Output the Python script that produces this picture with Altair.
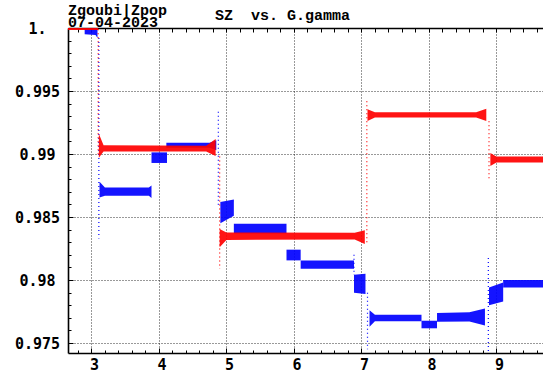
import altair as alt
import pandas as pd

# ---------------- data ----------------
# Each band segment: list of (G.gamma, SZ_low, SZ_high)
blue_segments = [
    [(2.90, 0.99950, 0.99995), (3.06, 0.99945, 0.99995), (3.09, 0.99920, 0.99995)],
    [(3.12, 0.98655, 0.98780), (3.20, 0.98668, 0.98735), (3.85, 0.98668, 0.98735), (3.89, 0.98650, 0.98750)],
    [(3.89, 0.98929, 0.99013), (4.12, 0.98929, 0.99013)],
    [(4.11, 0.99050, 0.99090), (4.75, 0.99050, 0.99090), (4.85, 0.99030, 0.99110)],
    [(4.91, 0.98450, 0.98620), (5.11, 0.98510, 0.98640)],
    [(5.11, 0.98369, 0.98446), (5.89, 0.98369, 0.98446)],
    [(5.89, 0.98156, 0.98241), (6.10, 0.98156, 0.98241)],
    [(6.10, 0.98090, 0.98156), (6.89, 0.98090, 0.98156)],
    [(6.89, 0.97900, 0.98042), (7.06, 0.97890, 0.98050)],
    [(7.12, 0.97630, 0.97760), (7.20, 0.97672, 0.97725), (7.89, 0.97672, 0.97725)],
    [(7.89, 0.97617, 0.97677), (8.12, 0.97617, 0.97677)],
    [(8.12, 0.97669, 0.97738), (8.60, 0.97670, 0.97745), (8.83, 0.97640, 0.97775)],
    [(8.89, 0.97800, 0.97940), (9.10, 0.97830, 0.97980)],
    [(9.10, 0.97940, 0.98000), (9.69, 0.97940, 0.98000)],
]
red_segments = [
    [(2.653, 0.99984, 1.00000), (3.10, 0.99984, 1.00000)],
    [(3.11, 0.98970, 0.99160), (3.18, 0.99020, 0.99070), (4.70, 0.99020, 0.99066), (4.84, 0.98985, 0.99120)],
    [(4.90, 0.98260, 0.98405), (5.00, 0.98318, 0.98378), (6.90, 0.98322, 0.98376), (7.05, 0.98285, 0.98395)],
    [(7.09, 0.99262, 0.99355), (7.20, 0.99289, 0.99332), (8.70, 0.99289, 0.99332), (8.85, 0.99262, 0.99360)],
    [(8.91, 0.98905, 0.99008), (9.00, 0.98932, 0.98980), (9.69, 0.98932, 0.98980)],
]
# Sparse transitions: (G.gamma, SZ_from, SZ_to)
blue_jumps = [(3.11, 0.99920, 0.98330), (4.88, 0.99336, 0.98580), (7.09, 0.97900, 0.97450),
              (6.89, 0.98200, 0.98040), (8.88, 0.98175, 0.97425)]
red_jumps = [(3.10, 0.99990, 0.98980), (4.90, 0.98980, 0.98090), (7.08, 0.98300, 0.99430),
             (8.89, 0.99260, 0.98800)]

x_major = [3, 4, 5, 6, 7, 8, 9]
x_minor = [2.8, 3.0, 3.2, 3.4, 3.6, 3.8, 4.0, 4.2, 4.4, 4.6, 4.8, 5.0, 5.2, 5.4, 5.6, 5.8,
           6.0, 6.2, 6.4, 6.6, 6.8, 7.0, 7.2, 7.4, 7.6, 7.8, 8.0, 8.2, 8.4, 8.6, 8.8, 9.0,
           9.2, 9.4, 9.6]
y_major = [0.975, 0.98, 0.985, 0.99, 0.995, 1.0]
y_minor = [0.975, 0.976, 0.977, 0.978, 0.979, 0.98, 0.981, 0.982, 0.983, 0.984, 0.985,
           0.986, 0.987, 0.988, 0.989, 0.99, 0.991, 0.992, 0.993, 0.994, 0.995, 0.996,
           0.997, 0.998, 0.999]
title_lines = ["Zgoubi|Zpop", "07-04-2023"]
plot_title = "SZ\u00a0\u00a0vs.\u00a0G.gamma"

x_domain = [2.653, 9.69]
y_domain = [0.97421, 1.0]

# ---------------- tables ----------------
def seg_table(segs):
    rows = []
    for i, seg in enumerate(segs):
        for (x, lo, hi) in seg:
            rows.append({"seg": i, "x": x, "lo": lo, "hi": hi})
    return pd.DataFrame(rows)

def jump_table(j):
    return pd.DataFrame([{"x": x, "y1": a, "y2": b} for (x, a, b) in j])

blue_df = seg_table(blue_segments)
red_df = seg_table(red_segments)
bj_df = jump_table(blue_jumps)
rj_df = jump_table(red_jumps)
anchor = pd.DataFrame({"x": [x_domain[0]], "y": [y_domain[0]]})

W, H = 475, 325
BLUE, RED = "#0000ff", "#ff0000"
xs = alt.Scale(domain=x_domain, nice=False, zero=False)
ys = alt.Scale(domain=y_domain, nice=False, zero=False)

label_font = "DejaVu Sans Mono"
grid_kw = dict(grid=True, gridDash=[1, 2], gridColor="black", gridOpacity=0.8, gridWidth=1)

main_x = alt.Axis(orient="bottom", values=x_major, format="d", ticks=False, tickSize=0,
                  domain=True, domainColor="black", domainWidth=1.6,
                  labelFont=label_font, labelFontWeight="bold", labelFontSize=15,
                  labelColor="black", labelPadding=4, labelOffset=2.5, title=None, **grid_kw)
main_y = alt.Axis(orient="left", values=y_major, ticks=False, tickSize=0,
                  labelExpr="datum.value > 0.9999 ? '1.' : '' + datum.value",
                  labelAlign="center", labelPadding=31,
                  domain=True, domainColor="black", domainWidth=1.6,
                  labelFont=label_font, labelFontWeight="bold", labelFontSize=15,
                  labelColor="black", title=None, **grid_kw)

blue_area = alt.Chart(blue_df).mark_area(color=BLUE, opacity=0.92).encode(
    x=alt.X("x:Q", scale=xs, axis=main_x),
    y=alt.Y("lo:Q", scale=ys, axis=main_y),
    y2="hi:Q",
    detail="seg:N",
)
red_area = alt.Chart(red_df).mark_area(color=RED, opacity=0.92).encode(
    x=alt.X("x:Q", scale=xs, axis=None),
    y=alt.Y("lo:Q", scale=ys, axis=None),
    y2="hi:Q",
    detail="seg:N",
)
blue_rule = alt.Chart(bj_df).mark_rule(color=BLUE, strokeWidth=1.2, strokeDash=[1, 3]).encode(
    x=alt.X("x:Q", scale=xs, axis=None),
    y=alt.Y("y1:Q", scale=ys, axis=None),
    y2="y2:Q",
)
red_rule = alt.Chart(rj_df).mark_rule(color=RED, strokeWidth=1.2, strokeDash=[1, 3]).encode(
    x=alt.X("x:Q", scale=xs, axis=None),
    y=alt.Y("y1:Q", scale=ys, axis=None),
    y2="y2:Q",
)

def tick_axis(orient, values, size):
    return alt.Axis(orient=orient, values=values, offset=-size, tickSize=size, ticks=True,
                    tickColor="black", tickWidth=1, domain=False, labels=False,
                    grid=False, title=None)

minor_ticks = alt.Chart(anchor).mark_point(opacity=0, size=0).encode(
    x=alt.X("x:Q", scale=xs, axis=tick_axis("bottom", x_minor, 3)),
    y=alt.Y("y:Q", scale=ys, axis=tick_axis("left", y_minor, 3)),
)
major_ticks = alt.Chart(anchor).mark_point(opacity=0, size=0).encode(
    x=alt.X("x:Q", scale=xs, axis=tick_axis("bottom", x_major, 5)),
    y=alt.Y("y:Q", scale=ys, axis=tick_axis("left", y_major, 5)),
)
top_ticks = alt.Chart(anchor).mark_point(opacity=0, size=0).encode(
    x=alt.X("x:Q", scale=xs, axis=tick_axis("top", x_minor, 4)),
    y=alt.Y("y:Q", scale=ys, axis=None),
)
top_border = alt.Chart(anchor).mark_point(opacity=0, size=0).encode(
    x=alt.X("x:Q", scale=xs, axis=alt.Axis(orient="top", ticks=False, labels=False, grid=False,
                                          domain=True, domainColor="black", domainWidth=1.6,
                                          title=None)),
    y=alt.Y("y:Q", scale=ys, axis=None),
)

text_kw = dict(align="left", baseline="alphabetic", font="Liberation Mono",
               fontWeight="bold", fontSize=15, color="black")
t1 = alt.Chart(pd.DataFrame({"t": [title_lines[0]]})).mark_text(**text_kw).encode(
    text="t:N", x=alt.value(0), y=alt.value(-13))
t2 = alt.Chart(pd.DataFrame({"t": [title_lines[1]]})).mark_text(**text_kw).encode(
    text="t:N", x=alt.value(0), y=alt.value(-1.5))
t3 = alt.Chart(pd.DataFrame({"t": [plot_title]})).mark_text(**text_kw).encode(
    text="t:N", x=alt.value(147), y=alt.value(-8))

chart = alt.layer(
    blue_area, blue_rule, red_area, red_rule,
    minor_ticks, major_ticks, top_ticks, top_border, t1, t2, t3,
).resolve_axis(x="independent", y="independent").properties(
    width=W, height=H,
    autosize=alt.AutoSizeParams(type="none"),
    padding={"left": 68, "top": 28, "right": 0, "bottom": 22},
    background="white",
).configure_view(stroke=None)

chart.save("out.html", embed_options={"renderer": "svg", "actions": False})
